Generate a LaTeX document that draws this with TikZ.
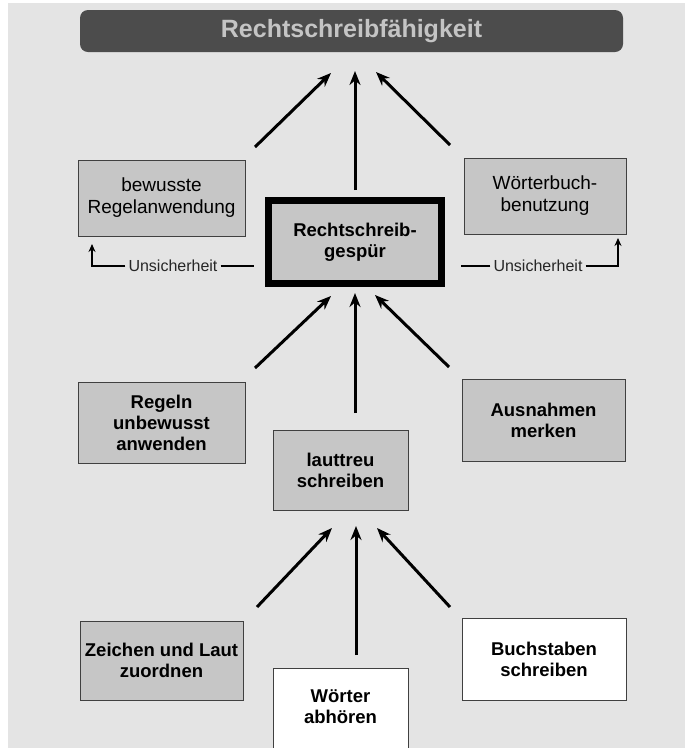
\documentclass[tikz,border=0pt]{standalone}
\usepackage{fontspec}
\setmainfont{Liberation Sans}
\usetikzlibrary{arrows.meta}
\definecolor{paper}{HTML}{E4E4E4}
\definecolor{boxgray}{HTML}{C6C6C6}
\definecolor{banner}{HTML}{4C4C4C}
\definecolor{bannertext}{HTML}{C4C4C4}
\begin{document}
\begin{tikzpicture}[x=1pt, y=-1pt, >={Stealth[length=14pt, width=11pt]},
    box/.style={draw=black!75, fill=boxgray, align=center, inner sep=0pt,
        font=\fontsize{19}{22}\selectfont},
    boldbox/.style={box, font=\bfseries\fontsize{18.5}{21}\selectfont},
    whitebox/.style={boldbox, fill=white},
    up/.style={->, line width=3pt},
    unsure/.style={font=\fontsize{16}{18}\selectfont, inner sep=3pt, text=black!85},
    backline/.style={line width=1.4pt, -{Stealth[length=8pt, width=7pt]}}]
    \useasboundingbox (0,0) rectangle (685,748);
    \clip (0,0) rectangle (685,748);
    \fill[paper] (8,3) rectangle (685,748);

    % Title banner
    \node[fill=banner, rounded corners=8pt, minimum width=543pt, minimum height=42pt,
        text=bannertext, font=\bfseries\fontsize{25}{28}\selectfont] (faehigkeit) at (351.5,31) {Rechtschreibfähigkeit};

    % Upper row
    \node[box, minimum width=167pt, minimum height=76pt] (regelanw) at (161.5,198) {bewusste\\Regelanwendung};
    \node[box, minimum width=162pt, minimum height=76pt] (woerterbuch) at (545,196) {Wörterbuch-\\benutzung};
    \node[boldbox, line width=7pt, draw=black, minimum width=173pt, minimum height=83pt] (gespuer) at (355,242) {Rechtschreib-\\gespür};

    % Unsicherheit
    \node[unsure] (unsL) at (173,266) {Unsicherheit};
    \node[unsure] (unsR) at (538,266) {Unsicherheit};
    \coordinate (cL) at (92,266);
    \coordinate (tipL) at (92,244);
    \coordinate (eL) at (254,266);
    \coordinate (cR) at (618,266);
    \coordinate (tipR) at (618,238);
    \coordinate (eR) at (461,266);
    \draw[backline] (unsL.west) -- (cL) -- (tipL);
    \draw[line width=1.4pt] (unsL.east) -- (eL);
    \draw[backline] (unsR.east) -- (cR) -- (tipR);
    \draw[line width=1.4pt] (unsR.west) -- (eR);

    % Middle row
    \node[boldbox, minimum width=167pt, minimum height=81pt] (unbewusst) at (161.5,422.5) {Regeln\\unbewusst\\anwenden};
    \node[boldbox, minimum width=163pt, minimum height=82pt] (ausnahmen) at (543.5,420) {Ausnahmen\\merken};
    \node[boldbox, minimum width=135pt, minimum height=80pt] (lauttreu) at (340.5,470) {lauttreu\\schreiben};

    % Lower row
    \node[boldbox, minimum width=163pt, minimum height=79pt] (zuordnen) at (161.5,660.5) {Zeichen und Laut\\zuordnen};
    \node[whitebox, minimum width=164pt, minimum height=82pt] (buchstaben) at (544,659) {Buchstaben\\schreiben};
    \node[whitebox, minimum width=135pt, minimum height=96pt, text depth=18pt] (abhoeren) at (340.5,716) {Wörter\\abhören};

    % Arrows to the title
    \coordinate (t1s) at (255,147);
    \coordinate (t1e) at (331,73);
    \coordinate (t2s) at (355,190);
    \coordinate (t2e) at (355,71);
    \coordinate (t3s) at (450,145);
    \coordinate (t3e) at (376,72);
    \draw[up] (t1s) -- (t1e);
    \draw[up] (t2s) -- (t2e);
    \draw[up] (t3s) -- (t3e);

    % Arrows to Rechtschreibgespuer
    \coordinate (m1s) at (255,368);
    \coordinate (m1e) at (331,296);
    \coordinate (m2s) at (355,413);
    \coordinate (m2e) at (355,293);
    \coordinate (m3s) at (449,367);
    \coordinate (m3e) at (375,295);
    \draw[up] (m1s) -- (m1e);
    \draw[up] (m2s) -- (m2e);
    \draw[up] (m3s) -- (m3e);

    % Arrows to lauttreu schreiben
    \coordinate (b1s) at (257,607);
    \coordinate (b1e) at (332,528);
    \coordinate (b2s) at (356,655);
    \coordinate (b2e) at (356,526);
    \coordinate (b3s) at (450,607);
    \coordinate (b3e) at (377,528);
    \draw[up] (b1s) -- (b1e);
    \draw[up] (b2s) -- (b2e);
    \draw[up] (b3s) -- (b3e);
\end{tikzpicture}
\end{document}
